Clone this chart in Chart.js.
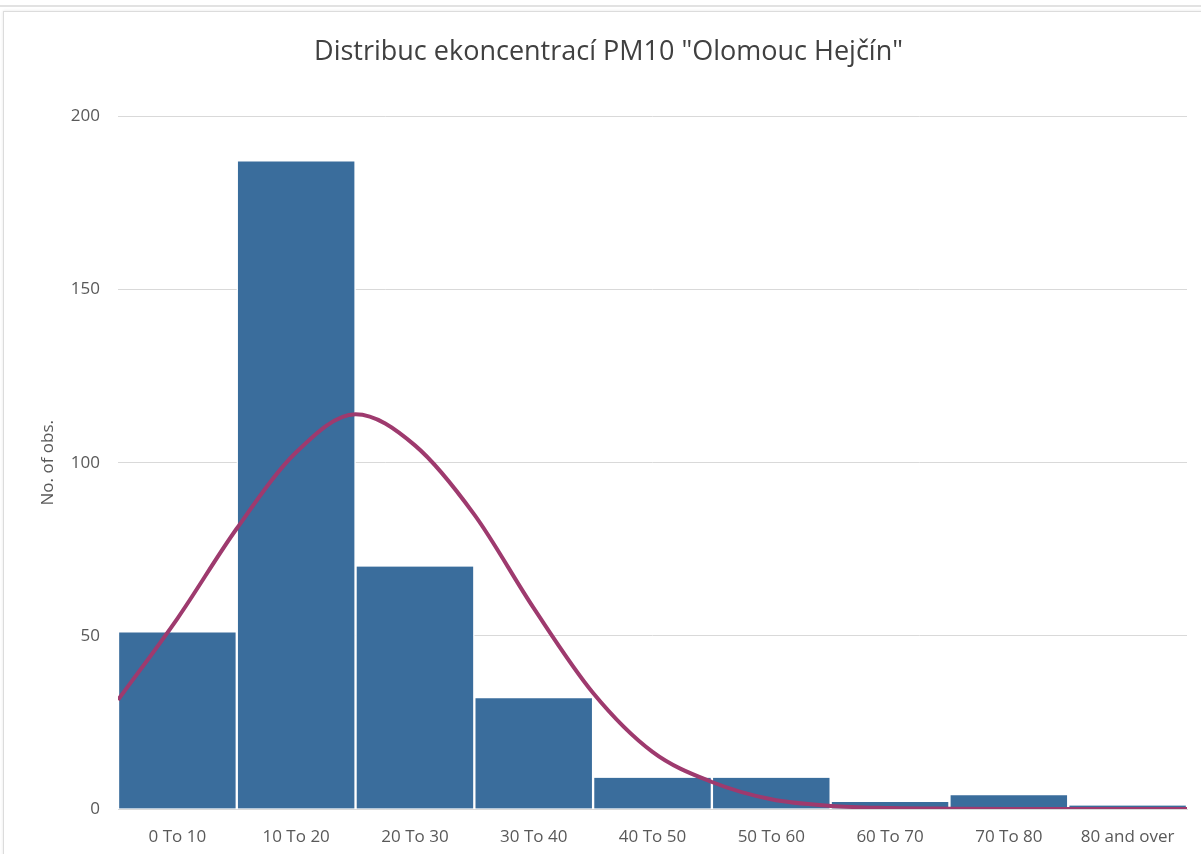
<!DOCTYPE html>
<html>
<head>
<meta charset="utf-8">
<script src="https://cdn.jsdelivr.net/npm/chart.js@4/dist/chart.umd.min.js"></script>
<style>
  body { margin: 0; background: #fff; }
  #strip { position: absolute; left: 0; top: 0; width: 1201px; height: 5px; border-bottom: 2px solid #e2e2e2; }
  #box { position: absolute; left: 3px; top: 11px; width: 1210px; height: 860px; border: 1px solid #dcdcdc; box-shadow: 0 0 3px #e6e6e6; }
  #wrap { position: absolute; left: 0; top: 0; width: 1201px; height: 854px; }
</style>
</head>
<body>
<div id="strip"></div>
<div id="box"></div>
<div id="wrap"><canvas id="chart" width="1201" height="854"></canvas></div>
<script>
// histogram classes and counts
const labels = ["0 To 10", "10 To 20", "20 To 30", "30 To 40", "40 To 50", "50 To 60", "60 To 70", "70 To 80", "80 and over"];
const counts = [51, 187, 70, 32, 9, 9, 2, 4, 1];

// fitted curve, every 5 units
const curveX = [0, 5, 10, 15, 20, 25, 30, 35, 40, 45, 50, 55, 60, 65, 70, 75, 80, 85, 90];
const curveY = [31.5, 55, 81, 103, 114, 105, 85, 58, 33.5, 16.5, 7.8, 2.8, 0.9, 0.3, 0.1, 0, 0, 0, 0];

const yTicks = [0, 50, 100, 150, 200];

const grey = "#595959";
const font = "'Open Sans', sans-serif";

new Chart(document.getElementById("chart"), {
  type: "bar",
  data: {
    labels: labels,
    datasets: [
      {
        label: "No. of obs.",
        data: counts,
        backgroundColor: "#3a6d9c",
        borderColor: "#ffffff",
        borderWidth: { left: 1.5, right: 1.5, top: 0, bottom: 0 },
        barPercentage: 1,
        categoryPercentage: 1,
        grouped: false,
        order: 2
      },
      {
        type: "line",
        label: "Normal",
        data: curveX.map((x, i) => ({ x: x, y: curveY[i] })),
        xAxisID: "x2",
        borderColor: "#9e3a6e",
        borderWidth: 4,
        pointRadius: 0,
        cubicInterpolationMode: "monotone",
        fill: false,
        order: 1
      }
    ]
  },
  options: {
    responsive: false,
    animation: false,
    layout: { padding: { left: 30, right: 14, top: 0, bottom: 0 } },
    plugins: {
      legend: { display: false },
      tooltip: { enabled: false },
      title: {
        display: true,
        text: "Distribuc ekoncentrací PM10 \"Olomouc Hejčín\"",
        color: "#404040",
        font: { family: font, size: 27, weight: "normal" },
        padding: { top: 36, bottom: 48 }
      }
    },
    scales: {
      x: {
        grid: { display: false },
        border: { display: true, color: "#d9d9d9" },
        ticks: { color: grey, font: { family: font, size: 17 }, maxRotation: 0, padding: 10 },
        afterFit: (s) => { s.height = 45; }
      },
      x2: {
        type: "linear",
        display: false,
        offset: false,
        min: 0,
        max: 90
      },
      y: {
        min: 0,
        max: 200,
        afterBuildTicks: (s) => { s.ticks = yTicks.map(v => ({ value: v })); },
        afterFit: (s) => { s.width = 88; },
        grid: { color: "#d9d9d9", drawTicks: false },
        border: { display: false },
        ticks: { color: grey, font: { family: font, size: 17 }, padding: 18 },
        title: {
          display: true,
          text: "No. of obs.",
          color: grey,
          font: { family: font, size: 17 },
          padding: { bottom: 0, top: 8 }
        }
      }
    }
  }
});
</script>
</body>
</html>
